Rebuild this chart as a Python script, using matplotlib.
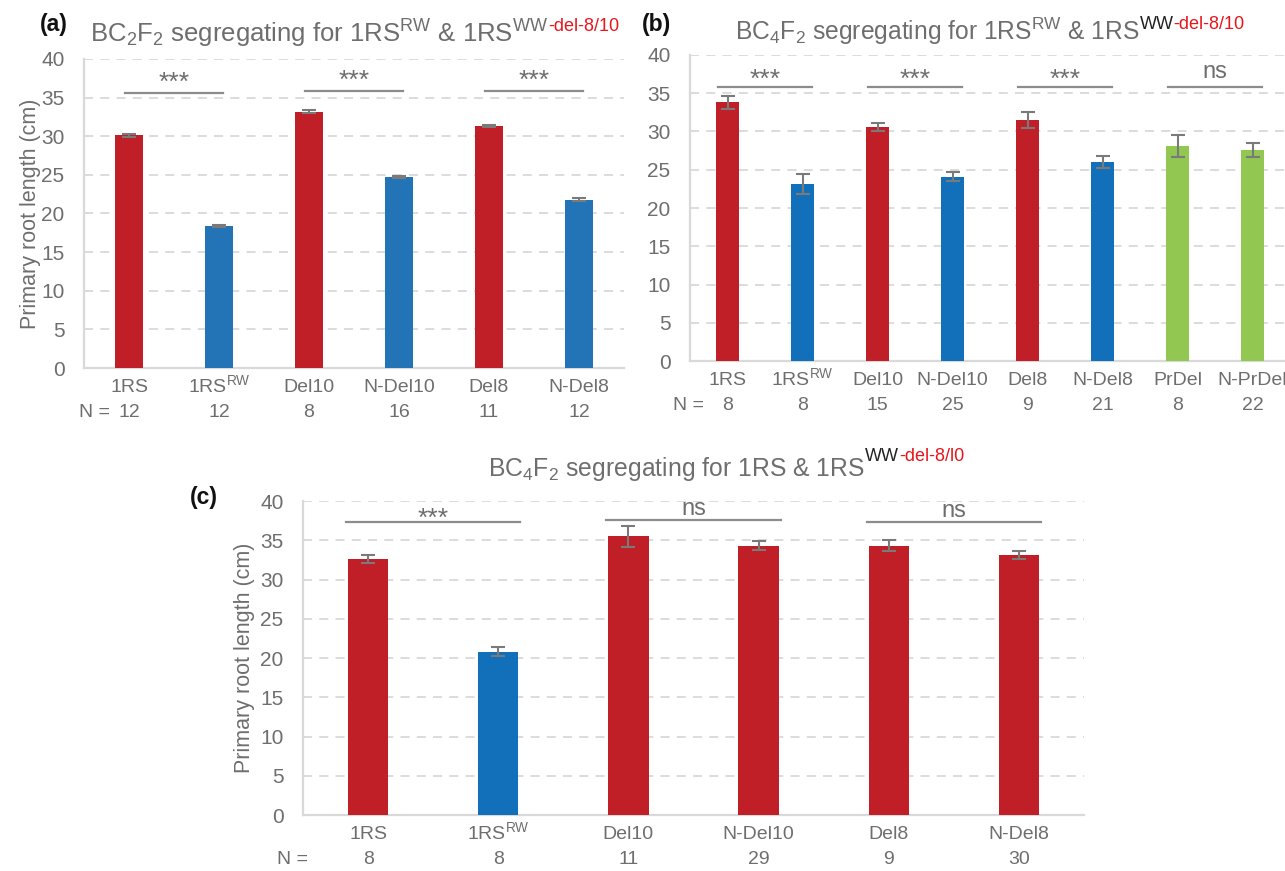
import matplotlib
matplotlib.use("Agg")
import matplotlib.pyplot as plt

plt.rcParams['font.family'] = ['Liberation Sans', 'DejaVu Sans']
plt.rcParams['mathtext.fontset'] = 'custom'
plt.rcParams['mathtext.rm'] = 'Liberation Sans'
plt.rcParams['mathtext.it'] = 'Liberation Sans'
plt.rcParams['mathtext.default'] = 'regular'

# panel (a): BC2F2
a_names = ['1RS', '1RS$^{RW}$', 'Del10', 'N-Del10', 'Del8', 'N-Del8']
a_n = [12, 12, 8, 16, 11, 12]
a_mean = [30.1, 18.4, 33.2, 24.7, 31.3, 21.8]
a_err = [0.15, 0.15, 0.15, 0.15, 0.15, 0.15]
a_kind = ['r', 'b', 'r', 'b', 'r', 'b']
a_sig = ['***', '***', '***']
a_sig_y = [35.6, 35.9, 35.9]

# panel (b): BC4F2
b_names = ['1RS', '1RS$^{RW}$', 'Del10', 'N-Del10', 'Del8', 'N-Del8', 'PrDel', 'N-PrDel']
b_n = [8, 8, 15, 25, 9, 21, 8, 22]
b_mean = [33.8, 23.1, 30.6, 24.1, 31.5, 26.0, 28.1, 27.6]
b_err = [0.9, 1.3, 0.55, 0.6, 1.0, 0.75, 1.45, 0.9]
b_kind = ['r', 'b', 'r', 'b', 'r', 'b', 'g', 'g']
b_sig = ['***', '***', '***', 'ns']
b_sig_y = [35.8, 35.8, 35.8, 35.8]

# panel (c): BC4F2
c_names = ['1RS', '1RS$^{RW}$', 'Del10', 'N-Del10', 'Del8', 'N-Del8']
c_n = [8, 8, 11, 29, 9, 30]
c_mean = [32.6, 20.8, 35.5, 34.3, 34.3, 33.1]
c_err = [0.55, 0.55, 1.35, 0.6, 0.7, 0.5]
c_kind = ['r', 'b', 'r', 'r', 'r', 'r']
c_sig = ['***', 'ns', 'ns']
c_sig_y = [37.3, 37.6, 37.3]

RED = '#C01F28'
COLORS_A = {'r': RED, 'b': '#2274B6', 'g': '#92C851'}
COLORS_B = {'r': RED, 'b': '#1170B9', 'g': '#92C851'}
GRAY = '#6E6E6E'
LIGHT = '#D9D9D9'

W, H = 1285, 871
fig = plt.figure(figsize=(W / 100, H / 100), dpi=100)


def panel(rect, names, ns, mean, err, kind, cols, sig, sig_y, xmax, nx, half,
          ast_off, ns_off, ylabel_pad):
    ax = fig.add_axes(rect)
    x = list(range(len(names)))
    ax.bar(x, mean, width=0.31, color=[cols[k] for k in kind], zorder=3)
    ax.errorbar(x, mean, yerr=err, fmt='none', ecolor='#7A7A7A', elinewidth=1.5,
                capsize=5, capthick=1.5, zorder=4)
    ax.set_xlim(-0.5, xmax)
    ax.set_ylim(0, 40)
    ax.set_yticks(range(0, 41, 5))
    ax.set_xticks([])
    ax.tick_params(axis='y', length=0, pad=14, labelsize=15, labelcolor=GRAY)
    ax.yaxis.grid(True, color=LIGHT, linestyle=(0, (5, 4)), linewidth=1.3, zorder=0)
    for s in ['top', 'right']:
        ax.spines[s].set_visible(False)
    for s in ['left', 'bottom']:
        ax.spines[s].set_color(LIGHT)
        ax.spines[s].set_linewidth(1.6)
    for i, (nm, n) in enumerate(zip(names, ns)):
        ax.annotate(nm, xy=(i, 0), xycoords=('data', 'axes fraction'), xytext=(0, -17),
                    textcoords='offset points', ha='center', va='baseline', fontsize=14, color=GRAY)
        ax.annotate(str(n), xy=(i, 0), xycoords=('data', 'axes fraction'), xytext=(0, -35),
                    textcoords='offset points', ha='center', va='baseline', fontsize=14, color=GRAY)
    ax.annotate('N =', xy=(nx, 0), xycoords=('data', 'axes fraction'), xytext=(0, -35),
                textcoords='offset points', ha='right', va='baseline', fontsize=14, color=GRAY)
    for j, (s, y) in enumerate(zip(sig, sig_y)):
        c = 2 * j + 0.5
        ax.plot([c - half, c + half], [y, y], color='#8C8C8C', lw=1.6, zorder=3, clip_on=False)
        if s == 'ns':
            ax.text(c, y + ns_off, s, ha='center', va='baseline', fontsize=17, color=GRAY)
        else:
            ax.text(c, y + ast_off, s, ha='center', va='baseline', fontsize=19, color=GRAY)
    if ylabel_pad is not None:
        ax.set_ylabel('Primary root length (cm)', fontsize=15.5, color=GRAY, labelpad=ylabel_pad)
    return ax


ax_a = panel([84 / W, 1 - 368 / H, 540 / W, 309 / H], a_names, a_n, a_mean, a_err, a_kind,
             COLORS_A, a_sig, a_sig_y, 5.5, -0.21, 0.54, 0.4, 1.2, 0)
ax_b = panel([690 / W, 1 - 361 / H, 594 / W, 306 / H], b_names, b_n, b_mean, b_err, b_kind,
             COLORS_B, b_sig, b_sig_y, 7.42, -0.31, 0.63, 0.1, 1.2, None)
ax_c = panel([303 / W, 1 - 815 / H, 781 / W, 314 / H], c_names, c_n, c_mean, c_err, c_kind,
             COLORS_B, c_sig, c_sig_y, 5.5, -0.46, 0.67, -0.5, 0.6, 4)

SFS = 13


def title(ax, x, y, gray_part, black_part, red_part, lift, fs):
    t = fig.text(x / W, 1 - y / H, gray_part, fontsize=fs, color=GRAY, va='baseline')
    anchor = t
    if black_part:
        anchor = ax.annotate(black_part, xy=(1, 1), xycoords=t, xytext=(0, lift),
                             textcoords='offset points', ha='left', va='top',
                             fontsize=SFS, color='#222222', annotation_clip=False)
    ax.annotate(red_part, xy=(1, 1), xycoords=anchor, ha='left', va='top',
                fontsize=SFS, color='#E8151B', annotation_clip=False)


title(ax_a, 90, 43, 'BC$_2$F$_2$ segregating for 1RS$^{RW}$ & 1RS$^{WW}$', None, '-del-8/10', 0, 18.5)
title(ax_b, 735, 40, 'BC$_4$F$_2$ segregating for 1RS$^{RW}$ & 1RS', 'WW', '-del-8/10', 0, 17.7)
title(ax_c, 488, 476, 'BC$_4$F$_2$ segregating for 1RS & 1RS', 'WW', '-del-8/l0', 5, 17.8)

fig.text(40 / W, 1 - 24 / H, '(a)', fontsize=16.5, fontweight='bold', va='center', color='#111111')
fig.text(642 / W, 1 - 24 / H, '(b)', fontsize=16.5, fontweight='bold', va='center', color='#111111')
fig.text(190 / W, 1 - 497 / H, '(c)', fontsize=16.5, fontweight='bold', va='center', color='#111111')

fig.savefig('out.png', dpi=100)
